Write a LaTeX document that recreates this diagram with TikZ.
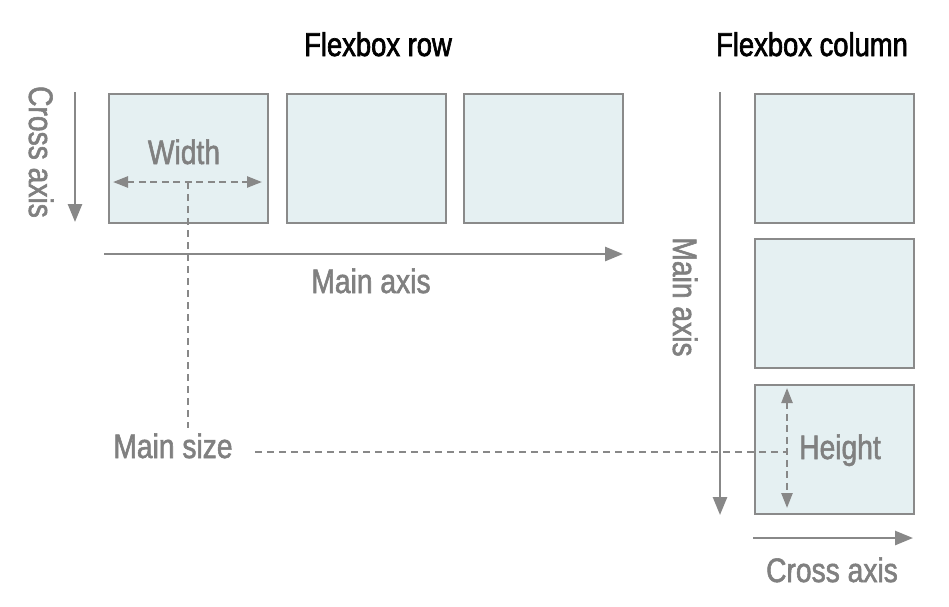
\documentclass[tikz,border=0pt]{standalone}
\usepackage{fontspec}
\setmainfont[FakeStretch=0.83]{Liberation Sans}
\newfontfamily\medfont[FakeStretch=0.83,FakeBold=1.6]{Liberation Sans}
\newfontfamily\ttlfont[FakeStretch=0.83,FakeBold=2.0]{Liberation Sans}
\usetikzlibrary{arrows.meta}
\definecolor{linegray}{HTML}{888888}
\definecolor{textgray}{HTML}{808080}
\definecolor{boxfill}{HTML}{E5F0F2}
\definecolor{boxline}{HTML}{8A8A8A}
\begin{document}
\begin{tikzpicture}[x=1pt,y=-1pt,
 flexitem/.style={draw=boxline, fill=boxfill, line width=2pt, minimum width=159pt, minimum height=129pt, inner sep=0pt, anchor=north west},
 axisarrow/.style={draw=linegray, line width=2.6pt, -{Triangle[length=18pt,width=14pt]}},
 sizearrow/.style={draw=linegray, line width=2.4pt, dash pattern=on 7pt off 4.5pt, {Triangle[length=15pt,width=11pt]}-{Triangle[length=15pt,width=11pt]}},
 guide/.style={draw=linegray, line width=2.2pt, dash pattern=on 7pt off 5pt},
 lbl/.style={text=textgray, font=\medfont\fontsize{34}{40}\selectfont, inner sep=0pt, anchor=base},
 ttl/.style={text=black, font=\ttlfont\fontsize{33}{40}\selectfont, inner sep=0pt, anchor=base}]
\useasboundingbox[fill=white] (0,0) rectangle (949,606);
% boxes
\node[flexitem] (r1) at (108,93) {};
\node[flexitem] (r2) at (286,93) {};
\node[flexitem] (r3) at (463,93) {};
\node[flexitem] (c1) at (754,93) {};
\node[flexitem] (c2) at (754,238) {};
\node[flexitem] (c3) at (754,384) {};
% titles
\node[ttl] (trow) at (378,56) {Flexbox row};
\node[ttl] (tcol) at (812,56) {Flexbox column};
% axis coordinates
\coordinate (ca1) at (75,92);
\coordinate (ca2) at (75,222);
\coordinate (ma1) at (104,254);
\coordinate (ma2) at (623,254);
\coordinate (cm1) at (720,92);
\coordinate (cm2) at (720,515);
\coordinate (cc1) at (753,538);
\coordinate (cc2) at (913,538);
\draw[axisarrow] (ca1) -- (ca2);
\draw[axisarrow] (ma1) -- (ma2);
\draw[axisarrow] (cm1) -- (cm2);
\draw[axisarrow] (cc1) -- (cc2);
% size markers
\coordinate (wl) at (113,182);
\coordinate (wr) at (262,182);
\coordinate (wm) at (188,182);
\coordinate (wd) at (188,428);
\coordinate (hs) at (255,452);
\coordinate (hm) at (787,452);
\coordinate (ht) at (787,388);
\coordinate (hb) at (787,508);
\draw[guide] (wm) -- (wd);
\draw[guide] (hs) -- (hm);
\draw[sizearrow] (wl) -- (wr);
\draw[sizearrow] (ht) -- (hb);
% labels
\node[lbl] (lwidth) at (184,164) {Width};
\node[lbl] (lmain) at (371,293) {Main axis};
\node[lbl] (lsize) at (173,458) {Main size};
\node[lbl] (lheight) at (840,459) {Height};
\node[lbl] (lcross) at (832,582) {Cross axis};
\node[lbl, rotate=-90] (lcrossv) at (29,152) {Cross axis};
\node[lbl, rotate=-90] (lmainv) at (673,297) {Main axis};
\end{tikzpicture}
\end{document}
